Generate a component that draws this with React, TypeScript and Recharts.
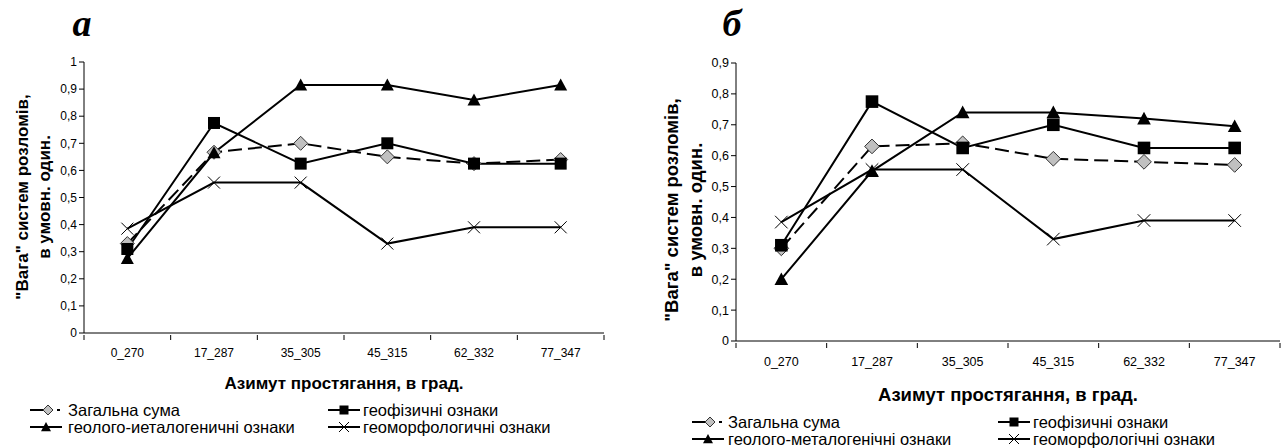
import React from "react";
import { Line, LineChart, XAxis, YAxis } from "recharts";

const categories = ["0_270", "17_287", "35_305", "45_315", "62_332", "77_347"];

// панель а
const totalA = [0.33, 0.667, 0.7, 0.65, 0.625, 0.64];
const geophysA = [0.31, 0.775, 0.625, 0.7, 0.625, 0.625];
const geologA = [0.275, 0.665, 0.915, 0.915, 0.86, 0.915];
const geomorphA = [0.385, 0.555, 0.555, 0.33, 0.39, 0.39];

// панель б
const totalB = [0.3, 0.63, 0.64, 0.59, 0.58, 0.57];
const geophysB = [0.31, 0.775, 0.625, 0.7, 0.625, 0.625];
const geologB = [0.2, 0.55, 0.74, 0.74, 0.72, 0.695];
const geomorphB = [0.385, 0.555, 0.555, 0.33, 0.39, 0.39];

const ticksA = [0, 0.1, 0.2, 0.3, 0.4, 0.5, 0.6, 0.7, 0.8, 0.9, 1];
const ticksB = [0, 0.1, 0.2, 0.3, 0.4, 0.5, 0.6, 0.7, 0.8, 0.9];

const xTitle = "Азимут простягання, в град.";
const yTitle = ['"Вага" систем розломів,', "в умовн. один."];
const namesA = ["Загальна сума", "геофізичні ознаки", "геолого-иеталогеничні ознаки", "геоморфологичні ознаки"];
const namesB = ["Загальна сума", "геофізичні ознаки", "геолого-металогенічні ознаки", "геоморфологічні ознаки"];

const SANS = '"Liberation Sans", Arial, sans-serif';
const SERIF = '"Liberation Serif", "Times New Roman", serif';

const fmt = (v: number) => (v === 0 || v === 1 ? String(v) : v.toFixed(1).replace(".", ","));

const buildRows = (total: number[], geophys: number[], geolog: number[], geomorph: number[]) =>
  categories.map((name, i) => ({
    name,
    total: total[i],
    geophys: geophys[i],
    geolog: geolog[i],
    geomorph: geomorph[i],
  }));

const Diamond = ({ cx, cy, r }: any) => (
  <polygon
    points={`${cx},${cy - r} ${cx + r},${cy} ${cx},${cy + r} ${cx - r},${cy}`}
    fill="#c0c0c0"
    stroke="#333"
    strokeWidth={1}
  />
);
const Square = ({ cx, cy, r }: any) => <rect x={cx - r} y={cy - r} width={r * 2} height={r * 2} fill="#000" />;
const Triangle = ({ cx, cy, r }: any) => (
  <polygon points={`${cx},${cy - r} ${cx + r},${cy + r * 0.85} ${cx - r},${cy + r * 0.85}`} fill="#000" />
);
const Cross = ({ cx, cy, r }: any) => (
  <path d={`M${cx - r},${cy - r}L${cx + r},${cy + r}M${cx - r},${cy + r}L${cx + r},${cy - r}`} stroke="#000" strokeWidth={1} />
);

const dotOf = (Shape: any, r: number) => (p: any) => <Shape key={`d${p.index}`} cx={p.cx} cy={p.cy} r={r} />;

type PanelCfg = {
  left: number;
  width: number;
  top: number;
  bottom: number;
  right: number;
  yWidth: number;
  max: number;
  ticks: number[];
  tickFont: number;
  tickDy: number;
  rows: any[];
  scale: number;
};

function Panel({ cfg }: { cfg: PanelCfg }) {
  const plotW = cfg.width - cfg.yWidth - cfg.right;
  const band = plotW / categories.length;

  const xTick = (p: any) => {
    const { x, y, payload, index } = p;
    return (
      <g>
        <line x1={x - band / 2} x2={x - band / 2} y1={y} y2={y + 5} stroke="#000" />
        {index === categories.length - 1 && (
          <line x1={x + band / 2} x2={x + band / 2} y1={y} y2={y + 5} stroke="#000" />
        )}
        <text x={x} y={y + cfg.tickDy} textAnchor="middle" fontSize={cfg.tickFont} fontFamily={SANS} fill="#000">
          {payload.value}
        </text>
      </g>
    );
  };

  const s = cfg.scale;
  return (
    <div style={{ position: "absolute", left: cfg.left, top: 0 }}>
      <LineChart
        width={cfg.width}
        height={448}
        data={cfg.rows}
        margin={{ top: cfg.top, right: cfg.right, bottom: cfg.bottom, left: 0 }}
      >
        <XAxis
          dataKey="name"
          interval={0}
          height={40}
          tickSize={0}
          tickLine={false}
          padding={{ left: band / 2, right: band / 2 }}
          axisLine={{ stroke: "#000" }}
          tick={xTick}
        />
        <YAxis
          domain={[0, cfg.max]}
          ticks={cfg.ticks}
          interval={0}
          width={cfg.yWidth}
          tickSize={5}
          tickFormatter={fmt}
          axisLine={{ stroke: "#000" }}
          tickLine={{ stroke: "#000" }}
          tick={{ fill: "#000", fontSize: cfg.tickFont, fontFamily: SANS }}
        />
        <Line
          type="linear"
          dataKey="total"
          stroke="#000"
          strokeWidth={2}
          strokeDasharray="14 6"
          dot={dotOf(Diamond, 7 * s)}
          activeDot={false}
          isAnimationActive={false}
        />
        <Line
          type="linear"
          dataKey="geophys"
          stroke="#000"
          strokeWidth={2}
          dot={dotOf(Square, 6 * s)}
          activeDot={false}
          isAnimationActive={false}
        />
        <Line
          type="linear"
          dataKey="geolog"
          stroke="#000"
          strokeWidth={2}
          dot={dotOf(Triangle, 6.5 * s)}
          activeDot={false}
          isAnimationActive={false}
        />
        <Line
          type="linear"
          dataKey="geomorph"
          stroke="#000"
          strokeWidth={2}
          dot={dotOf(Cross, 6 * s)}
          activeDot={false}
          isAnimationActive={false}
        />
      </LineChart>
    </div>
  );
}

// значок легенди: лінія + маркер
const LegendIcon = ({ kind, x, y }: { kind: number; x: number; y: number }) => {
  if (kind === 0) {
    return (
      <g>
        <line x1={x} x2={x + 13} y1={y} y2={y} stroke="#000" strokeWidth={2} />
        <Diamond cx={x + 18} cy={y} r={5} />
        <line x1={x + 27} x2={x + 30} y1={y} y2={y} stroke="#000" strokeWidth={2} />
      </g>
    );
  }
  const Shape = [Diamond, Square, Triangle, Cross][kind];
  const r = [5, 4.5, 5, 5][kind];
  return (
    <g>
      <line x1={x} x2={x + 32} y1={y} y2={y} stroke="#000" strokeWidth={2} />
      <Shape cx={x + 16} cy={y} r={r} />
    </g>
  );
};

type Deco = {
  letter: string;
  letterX: number;
  yTitleX: number[];
  yTitleMid: number;
  xTitleX: number;
  xTitleY: number;
  font: number;
  legendFont: number;
  names: string[];
  rowsY: number[];
  iconX: number[];
  textX: number[];
};

const Decorations = ({ d }: { d: Deco }) => (
  <g fontFamily={SANS} fill="#000">
    <text x={d.letterX} y={36} textAnchor="middle" fontFamily={SERIF} fontWeight="bold" fontStyle="italic" fontSize={38}>
      {d.letter}
    </text>
    {yTitle.map((t, i) => (
      <text
        key={i}
        x={d.yTitleX[i]}
        y={d.yTitleMid}
        transform={`rotate(-90 ${d.yTitleX[i]} ${d.yTitleMid})`}
        textAnchor="middle"
        dominantBaseline="central"
        fontWeight="bold"
        fontSize={d.font}
      >
        {t}
      </text>
    ))}
    <text x={d.xTitleX} y={d.xTitleY} textAnchor="middle" fontWeight="bold" fontSize={d.font}>
      {xTitle}
    </text>
    {d.names.map((n, i) => {
      const col = i % 2;
      const row = Math.floor(i / 2);
      return (
        <g key={n}>
          <LegendIcon kind={i} x={d.iconX[col]} y={d.rowsY[row]} />
          <text x={d.textX[col]} y={d.rowsY[row]} dominantBaseline="central" fontSize={d.legendFont}>
            {n}
          </text>
        </g>
      );
    })}
  </g>
);

export default function App() {
  const rowsA = buildRows(totalA, geophysA, geologA, geomorphA);
  const rowsB = buildRows(totalB, geophysB, geologB, geomorphB);

  return (
    <div style={{ position: "absolute", left: 0, top: 0, width: 1282, height: 448, background: "#fff", overflow: "hidden" }}>
      <Panel
        cfg={{
          left: 0,
          width: 640,
          top: 62,
          bottom: 75,
          right: 36,
          yWidth: 84,
          max: 1,
          ticks: ticksA,
          tickFont: 12,
          tickDy: 22,
          rows: rowsA,
          scale: 1,
        }}
      />
      <Panel
        cfg={{
          left: 640,
          width: 642,
          top: 63,
          bottom: 67,
          right: 2,
          yWidth: 96,
          max: 0.9,
          ticks: ticksB,
          tickFont: 12.5,
          tickDy: 23,
          rows: rowsB,
          scale: 1.05,
        }}
      />
      <svg width={1282} height={448} style={{ position: "absolute", left: 0, top: 0, pointerEvents: "none" }}>
        <Decorations
          d={{
            letter: "а",
            letterX: 82,
            yTitleX: [22, 44],
            yTitleMid: 197,
            xTitleX: 344,
            xTitleY: 389,
            font: 17,
            legendFont: 16.5,
            names: namesA,
            rowsY: [410, 427],
            iconX: [30, 328],
            textX: [68, 363],
          }}
        />
        <Decorations
          d={{
            letter: "б",
            letterX: 732,
            yTitleX: [671, 695],
            yTitleMid: 210,
            xTitleX: 1008,
            xTitleY: 401,
            font: 18.5,
            legendFont: 16.5,
            names: namesB,
            rowsY: [422, 439],
            iconX: [692, 998],
            textX: [728, 1033],
          }}
        />
      </svg>
    </div>
  );
}
